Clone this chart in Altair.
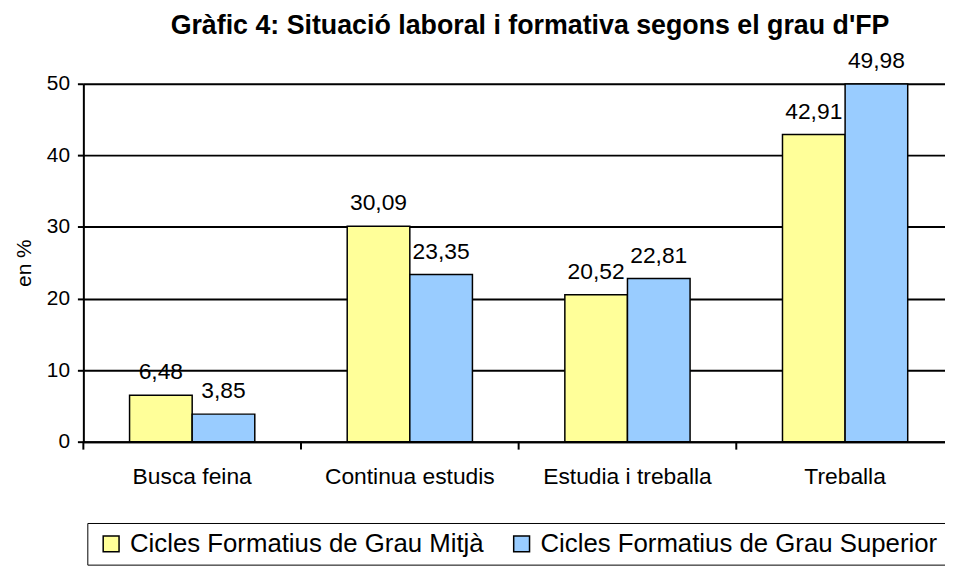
import altair as alt
import pandas as pd

categories = ["Busca feina", "Continua estudis", "Estudia i treballa", "Treballa"]
series = ["Cicles Formatius de Grau Mitjà", "Cicles Formatius de Grau Superior"]
mitja = [6.48, 30.09, 20.52, 42.91]
superior = [3.85, 23.35, 22.81, 49.98]
colors = ["#FFFF99", "#99CCFF"]
y_ticks = [0, 10, 20, 30, 40, 50]
title_text = "Gràfic 4: Situació laboral i formativa segons el grau d'FP"

rows = []
for i, c in enumerate(categories):
    for s, vals in zip(series, [mitja, superior]):
        rows.append({"cat": c, "serie": s, "val": vals[i],
                     "label": f"{vals[i]:.2f}".replace(".", ",")})
df = pd.DataFrame(rows)
df_cat = pd.DataFrame({"cat": categories})

FONT = "Liberation Sans"

x_scale = alt.Scale(domain=categories, range=[0, 878], paddingInner=0, paddingOuter=0)
xoff_scale = alt.Scale(domain=series, paddingInner=0, paddingOuter=0.738)
y_scale = alt.Scale(domain=[0, 50], nice=False, zero=True)

x_axis = alt.Axis(title=None, ticks=False, grid=False, labelFontSize=23,
                  labelFont=FONT, labelColor="black", labelPadding=24,
                  domainColor="black", domainWidth=2, labelAngle=0)
y_axis = alt.Axis(values=y_ticks, title="en %", grid=True, gridColor="black",
                  gridWidth=2, gridOpacity=1, domainColor="black", domainWidth=2,
                  tickColor="black", tickWidth=2, tickSize=6,
                  labelFontSize=21, labelFont=FONT, labelColor="black",
                  labelPadding=8, titleFontSize=21, titleFont=FONT,
                  titleColor="black", titleFontWeight="normal", titlePadding=12)

bars = alt.Chart(df).mark_bar(stroke="black", strokeWidth=1.5).encode(
    x=alt.X("cat:N", sort=categories, scale=x_scale, axis=x_axis),
    xOffset=alt.XOffset("serie:N", sort=series, scale=xoff_scale),
    y=alt.Y("val:Q", scale=y_scale, axis=y_axis),
    color=alt.Color("serie:N", sort=series, scale=alt.Scale(domain=series, range=colors),
                    legend=alt.Legend(title=None, orient="none", legendX=4, legendY=443,
                                      direction="horizontal", strokeColor="black",
                                      padding=8, symbolType="square", symbolSize=256,
                                      symbolStrokeColor="black", symbolStrokeWidth=1.5,
                                      symbolOpacity=1, symbolOffset=3, labelOffset=6,
                                      columnPadding=22, labelFontSize=26, labelFont=FONT,
                                      labelColor="black", labelLimit=800)),
)

labels = alt.Chart(df).mark_text(baseline="alphabetic", dy=-16, fontSize=23, font=FONT,
                                 color="black").encode(
    x=alt.X("cat:N", sort=categories, scale=x_scale, axis=x_axis),
    xOffset=alt.XOffset("serie:N", sort=series, scale=xoff_scale),
    y=alt.Y("val:Q", scale=y_scale, axis=y_axis),
    text="label:N",
)

ticks = alt.Chart(df_cat).mark_rule(color="black", strokeWidth=2).encode(
    x=alt.X("cat:N", sort=categories, scale=x_scale, bandPosition=0, axis=x_axis),
    y=alt.value(361),
    y2=alt.value(369),
)

chart = alt.layer(bars, labels, ticks).properties(
    width=869,
    height=361,
    autosize=alt.AutoSizeParams(type="none"),
    padding={"left": 76, "top": 74, "right": 0, "bottom": 125},
    title=alt.TitleParams(title_text, font=FONT, fontSize=27, fontWeight="bold",
                          color="black", anchor="middle", dx=16, offset=10),
).configure_view(stroke=None).configure_legend(strokeWidth=2).configure(background="white")

chart.save("out.html", embed_options={"renderer": "svg", "actions": False})
